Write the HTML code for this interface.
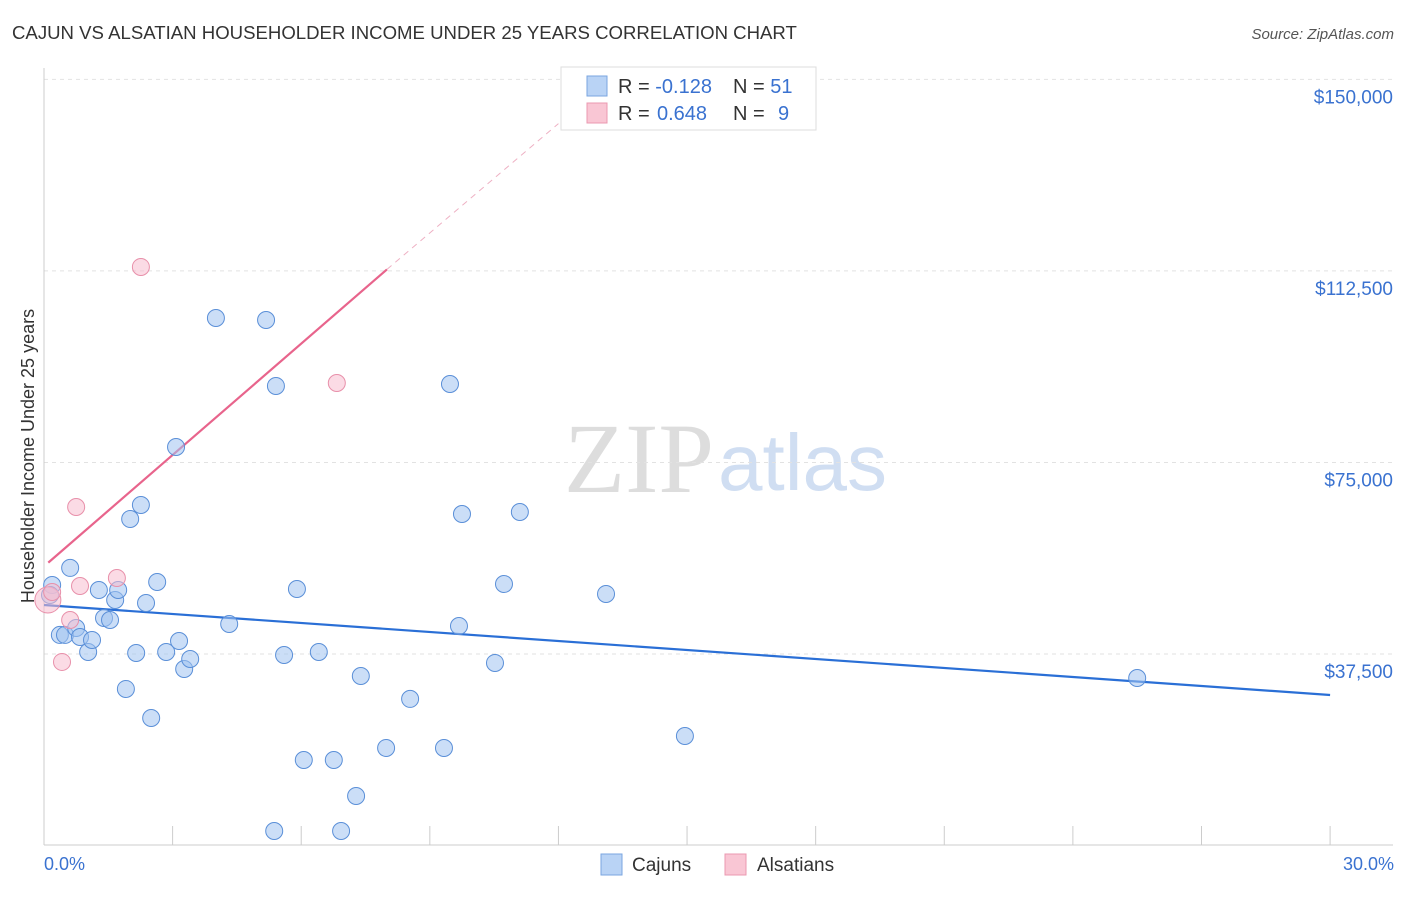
<!DOCTYPE html>
<html><head><meta charset="utf-8"><style>
body{margin:0;background:#fff;font-family:"Liberation Sans",sans-serif}
svg text{font-family:"Liberation Sans",sans-serif}
</style></head><body>
<svg id="c" width="1406" height="892" xmlns="http://www.w3.org/2000/svg">
<text x="12" y="39" font-size="18.6" fill="#333">CAJUN VS ALSATIAN HOUSEHOLDER INCOME UNDER 25 YEARS CORRELATION CHART</text>
<text x="1394" y="39" font-size="15" fill="#555" font-style="italic" text-anchor="end">Source: ZipAtlas.com</text>
<text x="714" y="492" font-size="100" fill="#ddd" text-anchor="end" style="font-family:'Liberation Serif',serif">ZIP</text>
<text x="718" y="490" font-size="80" fill="#d0def2">atlas</text>
<g id="grid"></g><g id="axes"></g><g id="lines"></g><g id="pts"></g>
<text transform="translate(34,456) rotate(-90)" font-size="18" fill="#333" text-anchor="middle">Householder Income Under 25 years</text>
<text x="44" y="870" font-size="18" fill="#3a72d0">0.0%</text>
<text x="1394" y="870" font-size="18" fill="#3a72d0" text-anchor="end">30.0%</text>
<g>
<rect x="561" y="67" width="255" height="63" fill="#fff" stroke="#ddd"/>
<rect x="587" y="76" width="20" height="20" fill="#b9d3f5" stroke="#7aa6e0"/>
<rect x="587" y="103" width="20" height="20" fill="#f9c6d4" stroke="#eb98b0"/>
<text x="618" y="93" font-size="20" fill="#333">R = <tspan fill="#3a72d0">-0.128</tspan><tspan x="733">N = </tspan><tspan fill="#3a72d0">51</tspan></text>
<text x="618" y="120" font-size="20" fill="#333">R = <tspan x="657" fill="#3a72d0">0.648</tspan><tspan x="733">N = </tspan><tspan x="778" fill="#3a72d0">9</tspan></text>
</g>
<g>
<rect x="601" y="854" width="21" height="21" fill="#b9d3f5" stroke="#7aa6e0"/>
<text x="632" y="871" font-size="19" fill="#333">Cajuns</text>
<rect x="725" y="854" width="21" height="21" fill="#f9c6d4" stroke="#eb98b0"/>
<text x="757" y="871" font-size="19" fill="#333">Alsatians</text>
</g>
</svg>
<script>
const yTicks=[37500,75000,112500,150000];
const yTickLabels=["$37,500","$75,000","$112,500","$150,000"];
const cajunX=[0.19,0.14,0.37,0.49,0.61,0.75,0.84,1.03,1.12,1.28,1.40,1.54,1.66,1.73,1.91,2.01,2.15,2.26,2.38,2.50,2.64,2.85,3.08,3.15,3.27,3.41,4.01,4.32,5.18,5.41,5.60,5.90,6.06,6.41,6.76,7.28,7.39,5.37,6.93,7.98,8.54,9.33,9.47,9.68,9.75,10.52,10.73,11.10,13.11,14.95,25.50];
const cajunY=[51000,49050,41230,41230,54350,42590,40830,37890,40240,50030,44550,44150,48070,50030,30650,63930,37690,66670,47480,24960,51590,37890,78030,40040,34560,36520,103280,43370,102890,89970,37300,50220,16740,37890,16740,9690,33190,2840,2840,19090,28700,19090,90360,42980,64910,35740,51200,65300,49250,21440,32800];
const alsX=[0.09,0.19,0.42,0.61,0.75,0.84,1.70,2.26,6.83];
const alsY=[48070,49640,35940,44150,66280,50810,52380,113280,90560];
const cajunTrend=[[0,47090],[30,29470]];
const alsTrendSolid=[[0.1,55390],[8,112800]];
const alsTrendDash=[[8,112800],[12,141340]];
const X=v=>44+v*42.87, Y=v=>845.5-v/195.8;
const NS="http://www.w3.org/2000/svg";
function mk(p,t,a){const e=document.createElementNS(NS,t);for(const k in a)e.setAttribute(k,a[k]);document.getElementById(p).appendChild(e);return e;}
yTicks.forEach((t,i)=>{
 const g=mk('grid','line',{x1:44,x2:1393,y1:Y(t),y2:Y(t),stroke:'#e2e2e2','stroke-dasharray':'4,4'});
 
 
 const l=mk('grid','text',{x:1393,y:Y(t)+24,'font-size':19,fill:'#3a72d0','text-anchor':'end'});
 l.textContent=yTickLabels[i];
 
 
});
const ya=mk('axes','line',{x1:44,x2:44,y1:68,y2:845,stroke:'#ccc'});


const xa=mk('axes','line',{x1:44,x2:1393,y1:845,y2:845,stroke:'#ccc'});


for(let i=0;i<=10;i++){const t=mk('axes','line',{x1:X(i*3),x2:X(i*3),y1:826,y2:845,stroke:'#ccc'});
 
 }
function ln(d,c,w,dash,name){const e=mk('lines','line',{x1:X(d[0][0]),y1:Y(d[0][1]),x2:X(d[1][0]),y2:Y(d[1][1]),stroke:c,'stroke-width':w});
 if(dash)e.setAttribute('stroke-dasharray',dash);
 
 }
ln(cajunTrend,'#2a6fd6',2.2,null,'cajun-trend-line');
ln(alsTrendSolid,'#e8648c',2.2,null,'alsatian-trend-line');
ln(alsTrendDash,'#eeb0c3',1,'6,5','alsatian-trend-extension');
cajunX.forEach((x,i)=>{const c=mk('pts','circle',{cx:X(x),cy:Y(cajunY[i]),r:8.5,fill:'rgba(160,195,240,0.55)',stroke:'#5a8fd8','stroke-width':1});
 
 });
alsX.forEach((x,i)=>{const c=mk('pts','circle',{cx:X(x),cy:Y(alsY[i]),r:i==0?13:8.5,fill:'rgba(248,190,208,0.55)',stroke:'#e890aa','stroke-width':1});
 
 });
</script>
</body></html>
